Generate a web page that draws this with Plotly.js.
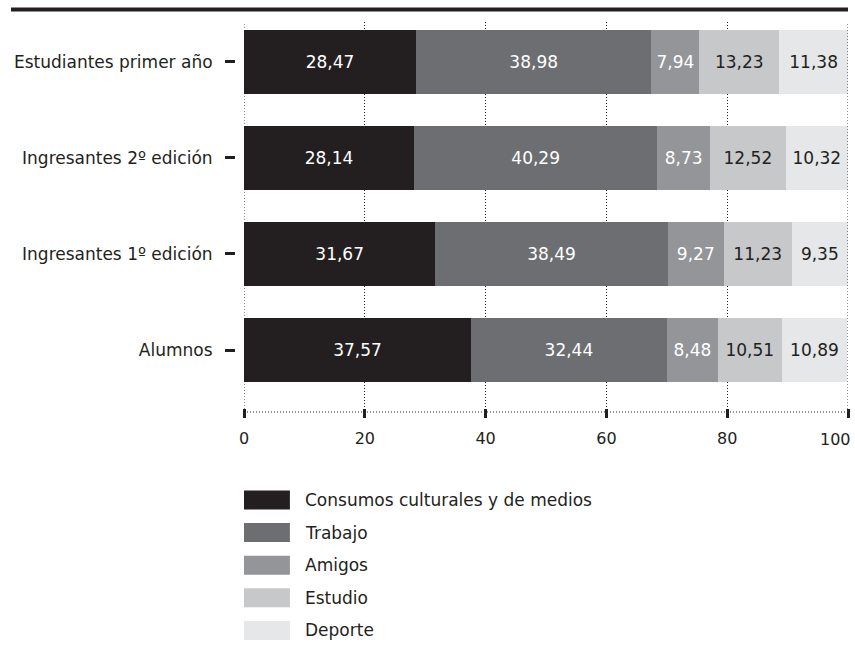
<!DOCTYPE html>
<html>
<head>
<meta charset="utf-8">
<script src="https://cdn.plot.ly/plotly-3.0.1.min.js"></script>
<style>
  html, body { margin: 0; padding: 0; background: #ffffff; }
  #chart { width: 855px; height: 666px; }
</style>
</head>
<body>
<div id="chart"></div>
<script>
// Groups, bottom to top
const groups = ['Alumnos', 'Ingresantes 1º edición', 'Ingresantes 2º edición', 'Estudiantes primer año'];

// Series (percentages per group, same order as groups)
const seriesNames = ['Consumos culturales y de medios', 'Trabajo', 'Amigos', 'Estudio', 'Deporte'];
const consumos = [37.57, 31.67, 28.14, 28.47];
const trabajo  = [32.44, 38.49, 40.29, 38.98];
const amigos   = [8.48, 9.27, 8.73, 7.94];
const estudio  = [10.51, 11.23, 12.52, 13.23];
const deporte  = [10.89, 9.35, 10.32, 11.38];

const xTicks = [0, 20, 40, 60, 80, 100];

const seriesValues = [consumos, trabajo, amigos, estudio, deporte];
const fills = ['#231f20', '#6d6e71', '#939598', '#c7c8ca', '#e6e7e8'];
const labelInk = ['#ffffff', '#ffffff', '#ffffff', '#231f20', '#231f20'];

const FONT = 'DejaVu Sans, Liberation Sans, sans-serif';
const INK = '#231f20';
const FINE_DOTS = '1px,2px';

const traces = seriesNames.map((name, i) => ({
  type: 'bar',
  orientation: 'h',
  name: name,
  y: groups,
  x: seriesValues[i],
  width: 0.67,
  marker: { color: fills[i], line: { width: 0 } },
  text: seriesValues[i],
  texttemplate: '%{x:.2f}',
  textposition: 'inside',
  insidetextanchor: 'middle',
  textangle: 0,
  constraintext: 'none',
  textfont: { family: FONT, size: 17, color: labelInk[i] },
  hoverinfo: 'skip',
  showlegend: false
}));

const shapes = [];
const annotations = [];
const plotH = 390;            // plot area height in px
const plotBottom = 412;       // plot bottom in px from top
const marginL = 235;
const paperW = 855 - marginL - 7;

// Hand-built legend: wide swatches with labels stacked below the plot
seriesNames.forEach((name, i) => {
  const cy = 500 + i * 32.6;  // row centre (px from top)
  shapes.push({
    type: 'rect', xref: 'x', yref: 'paper',
    x0: 0, x1: 7.6,
    y0: -(cy - 9.5 - plotBottom) / plotH,
    y1: -(cy + 9.5 - plotBottom) / plotH,
    fillcolor: fills[i], line: { width: 0 }
  });
  annotations.push({
    xref: 'x', yref: 'paper',
    x: 9.8, y: -(cy - plotBottom) / plotH,
    xanchor: 'left', yanchor: 'middle',
    text: name, showarrow: false,
    font: { family: FONT, size: 17, color: INK }
  });
});

// Fine dotted gridlines at both ends of the scale
[xTicks[0], xTicks[xTicks.length - 1]].forEach(v => {
  shapes.push({
    type: 'line', xref: 'x', yref: 'paper',
    x0: v, x1: v, y0: 0, y1: 1,
    line: { color: INK, width: 1, dash: FINE_DOTS }
  });
});

// Heavy rule across the top
const ruleY = 1 + (22 - 9.5) / plotH;
shapes.push({
  type: 'line', xref: 'paper', yref: 'paper',
  x0: (11 - marginL) / paperW, x1: 1.0, y0: ruleY, y1: ruleY,
  line: { color: INK, width: 4 }
});
// Dotted baseline under the bars
shapes.push({
  type: 'line', xref: 'x', yref: 'paper',
  x0: xTicks[0], x1: xTicks[xTicks.length - 1], y0: 0, y1: 0,
  line: { color: INK, width: 1, dash: FINE_DOTS }
});

// The last scale label sits flush with the right edge
const lastTick = xTicks[xTicks.length - 1];
annotations.push({
  xref: 'x', yref: 'paper',
  x: lastTick, y: -(439 - plotBottom) / plotH,
  xanchor: 'right', yanchor: 'middle', xshift: 5,
  text: String(lastTick), showarrow: false,
  font: { family: FONT, size: 16, color: INK }
});

const layout = {
  width: 855,
  height: 666,
  margin: { l: marginL, r: 7, t: 22, b: 254, pad: 0 },
  paper_bgcolor: '#ffffff',
  plot_bgcolor: '#ffffff',
  barmode: 'stack',
  separators: ',.',
  showlegend: false,
  font: { family: FONT, color: INK },
  xaxis: {
    domain: [9 / paperW, 1],
    range: [0, 100],
    tickvals: xTicks,
    ticktext: xTicks.map(v => v === lastTick ? '' : String(v)),
    anchor: 'free',
    position: 4 / plotH,
    side: 'bottom',
    ticks: 'outside',
    ticklen: 9,
    tickwidth: 3,
    tickcolor: INK,
    ticklabelstandoff: 7,
    tickfont: { family: FONT, size: 16, color: INK },
    showgrid: true,
    gridcolor: INK,
    gridwidth: 1,
    griddash: FINE_DOTS,
    zeroline: false,
    showline: false,
    fixedrange: true
  },
  yaxis: {
    type: 'category',
    categoryorder: 'array',
    categoryarray: groups,
    range: [-0.645, 3.413],
    anchor: 'free',
    position: 0,
    ticks: 'outside',
    ticklen: 10,
    tickwidth: 3,
    tickcolor: INK,
    ticklabelstandoff: 9,
    tickfont: { family: FONT, size: 17, color: INK },
    showgrid: false,
    zeroline: false,
    showline: false,
    fixedrange: true
  },
  shapes: shapes,
  annotations: annotations
};

Plotly.newPlot('chart', traces, layout, { staticPlot: true, displayModeBar: false });
</script>
</body>
</html>
